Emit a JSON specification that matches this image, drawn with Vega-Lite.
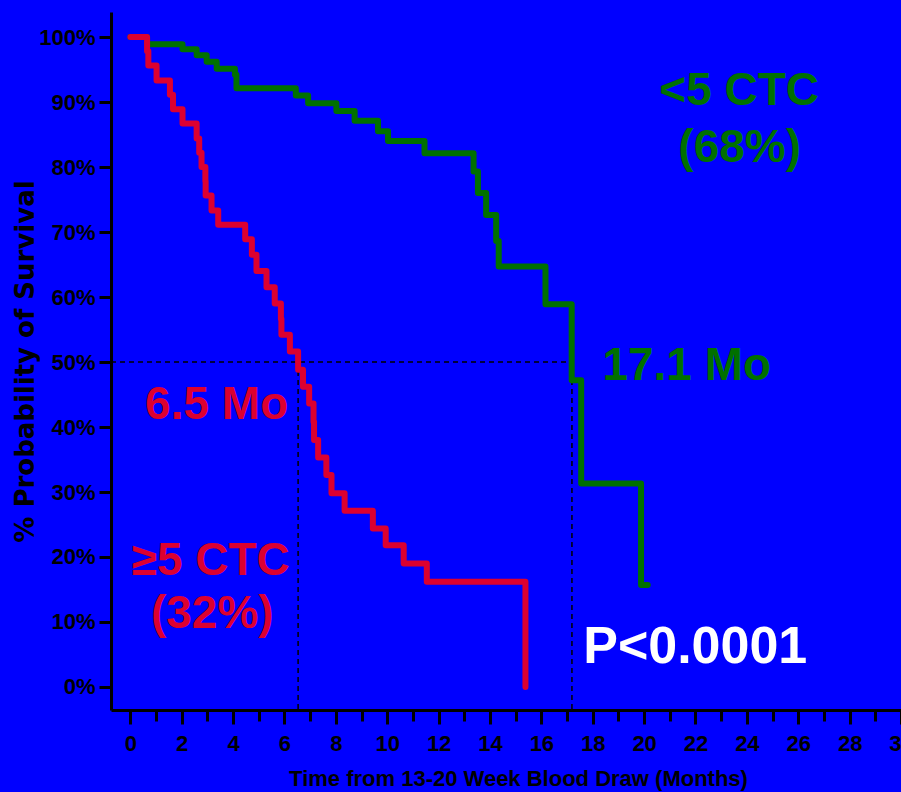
{
  "$schema": "https://vega.github.io/schema/vega-lite/v6.json",
  "width": 790,
  "height": 698,
  "autosize": {"type": "none"},
  "padding": {"left": 111, "top": 12, "right": 0, "bottom": 82},
  "background": "#0000ff",
  "config": {"view": {"stroke": null}},
  "datasets": {
    "curves": [
      {"group": "<5 CTC", "month": 0, "pct": 100},
      {"group": "<5 CTC", "month": 0.65, "pct": 98.9},
      {"group": "<5 CTC", "month": 2.03, "pct": 98.1},
      {"group": "<5 CTC", "month": 2.58, "pct": 97.2},
      {"group": "<5 CTC", "month": 2.97, "pct": 96.2},
      {"group": "<5 CTC", "month": 3.36, "pct": 95.1},
      {"group": "<5 CTC", "month": 4.07, "pct": 94.2},
      {"group": "<5 CTC", "month": 4.13, "pct": 92.1},
      {"group": "<5 CTC", "month": 6.44, "pct": 91.0},
      {"group": "<5 CTC", "month": 6.92, "pct": 89.8},
      {"group": "<5 CTC", "month": 8.02, "pct": 88.6},
      {"group": "<5 CTC", "month": 8.73, "pct": 87.1},
      {"group": "<5 CTC", "month": 9.64, "pct": 85.5},
      {"group": "<5 CTC", "month": 10.03, "pct": 84.0},
      {"group": "<5 CTC", "month": 11.45, "pct": 82.1},
      {"group": "<5 CTC", "month": 13.36, "pct": 79.3},
      {"group": "<5 CTC", "month": 13.53, "pct": 76.0},
      {"group": "<5 CTC", "month": 13.85, "pct": 72.6},
      {"group": "<5 CTC", "month": 14.24, "pct": 68.6},
      {"group": "<5 CTC", "month": 14.34, "pct": 64.7},
      {"group": "<5 CTC", "month": 16.16, "pct": 58.9},
      {"group": "<5 CTC", "month": 17.18, "pct": 47.2},
      {"group": "<5 CTC", "month": 17.55, "pct": 31.3},
      {"group": "<5 CTC", "month": 19.88, "pct": 15.7},
      {"group": "<5 CTC", "month": 20.14, "pct": 15.7},
      {"group": "≥5 CTC", "month": 0, "pct": 100},
      {"group": "≥5 CTC", "month": 0.65, "pct": 97.8},
      {"group": "≥5 CTC", "month": 0.7, "pct": 95.6},
      {"group": "≥5 CTC", "month": 1.02, "pct": 93.3},
      {"group": "≥5 CTC", "month": 1.54, "pct": 91.1},
      {"group": "≥5 CTC", "month": 1.66, "pct": 88.9},
      {"group": "≥5 CTC", "month": 2.03, "pct": 86.7},
      {"group": "≥5 CTC", "month": 2.58, "pct": 84.4},
      {"group": "≥5 CTC", "month": 2.68, "pct": 82.2},
      {"group": "≥5 CTC", "month": 2.77, "pct": 80.0},
      {"group": "≥5 CTC", "month": 2.92, "pct": 77.8},
      {"group": "≥5 CTC", "month": 2.93, "pct": 75.6},
      {"group": "≥5 CTC", "month": 3.16, "pct": 73.3},
      {"group": "≥5 CTC", "month": 3.42, "pct": 71.1},
      {"group": "≥5 CTC", "month": 4.47, "pct": 68.9},
      {"group": "≥5 CTC", "month": 4.73, "pct": 66.5},
      {"group": "≥5 CTC", "month": 4.91, "pct": 64.0},
      {"group": "≥5 CTC", "month": 5.3, "pct": 61.5},
      {"group": "≥5 CTC", "month": 5.62, "pct": 59.0},
      {"group": "≥5 CTC", "month": 5.86, "pct": 56.6},
      {"group": "≥5 CTC", "month": 5.88, "pct": 54.2},
      {"group": "≥5 CTC", "month": 6.21, "pct": 51.6},
      {"group": "≥5 CTC", "month": 6.53, "pct": 48.8},
      {"group": "≥5 CTC", "month": 6.72, "pct": 46.2},
      {"group": "≥5 CTC", "month": 6.96, "pct": 43.6},
      {"group": "≥5 CTC", "month": 7.13, "pct": 40.8},
      {"group": "≥5 CTC", "month": 7.15, "pct": 38.0},
      {"group": "≥5 CTC", "month": 7.31, "pct": 35.3},
      {"group": "≥5 CTC", "month": 7.63, "pct": 32.6},
      {"group": "≥5 CTC", "month": 7.83, "pct": 29.8},
      {"group": "≥5 CTC", "month": 8.34, "pct": 27.1},
      {"group": "≥5 CTC", "month": 9.44, "pct": 24.4},
      {"group": "≥5 CTC", "month": 9.94, "pct": 21.8},
      {"group": "≥5 CTC", "month": 10.64, "pct": 19.0},
      {"group": "≥5 CTC", "month": 11.54, "pct": 16.2},
      {"group": "≥5 CTC", "month": 15.38, "pct": 0}
    ],
    "refs": [
      {"month": -0.754, "month2": 17.19, "pct": 50, "pct2": 50},
      {"month": 6.53, "month2": 6.53, "pct": 50, "pct2": -3.54},
      {"month": 17.19, "month2": 17.19, "pct": 50, "pct2": -3.54}
    ],
    "notes": [
      {"series": "low", "label": "<5 CTC", "month": 23.7, "pct": 89.5},
      {"series": "low", "label": "(68%)", "month": 23.72, "pct": 80.8},
      {"series": "low", "label": "17.1 Mo", "month": 21.66, "pct": 47.2},
      {"series": "high", "label": "6.5 Mo", "month": 3.36, "pct": 41.3},
      {"series": "high", "label": "≥5 CTC", "month": 3.13, "pct": 17.2},
      {"series": "high", "label": "(32%)", "month": 3.19, "pct": 9.0},
      {"series": "p", "label": "P<0.0001", "month": 21.99, "pct": 3.65}
    ]
  },
  "encoding": {
    "x": {
      "field": "month",
      "type": "quantitative",
      "scale": {"domain": [-0.754, 30], "nice": false, "zero": false},
      "axis": {
        "values": [0,1,2,3,4,5,6,7,8,9,10,11,12,13,14,15,16,17,18,19,20,21,22,23,24,25,26,27,28,29,30],
        "labelExpr": "datum.value % 2 === 0 ? datum.label : ''",
        "tickSize": {"condition": {"test": "datum.value % 2 === 1", "value": 11}, "value": 14},
        "tickWidth": 3,
        "tickColor": "black",
        "domainColor": "black",
        "domainWidth": 3,
        "grid": false,
        "labelFont": "Liberation Sans",
        "labelFontWeight": "bold",
        "labelFontSize": 22,
        "labelColor": "black",
        "labelPadding": 9,
        "labelOverlap": false,
        "labelFlush": false,
        "labelBound": false,
        "title": "Time from 13-20 Week Blood Draw (Months)",
        "titleFont": "Liberation Sans",
        "titleFontSize": 22,
        "titleFontWeight": "bold",
        "titleColor": "black",
        "titleX": 407,
        "titlePadding": 14
      }
    },
    "y": {
      "field": "pct",
      "type": "quantitative",
      "scale": {"domain": [-3.54, 103.85], "nice": false, "zero": false},
      "axis": {
        "values": [0,10,20,30,40,50,60,70,80,90,100],
        "labelExpr": "datum.value + '%'",
        "tickSize": 12,
        "tickWidth": 3,
        "tickColor": "black",
        "domainColor": "black",
        "domainWidth": 3,
        "grid": false,
        "labelFont": "Liberation Sans",
        "labelFontWeight": "bold",
        "labelFontSize": 22,
        "labelColor": "black",
        "labelPadding": 4,
        "labelOverlap": false,
        "labelBound": false,
        "labelFlush": false,
        "title": "% Probability of Survival",
        "titleFont": "DejaVu Sans",
        "titleFontSize": 26,
        "titleFontWeight": "bold",
        "titleColor": "black",
        "titleAngle": -90,
        "titleAlign": "center",
        "titleBaseline": "alphabetic",
        "titleX": -78,
        "titleY": 349
      }
    }
  },
  "layer": [
    {
      "data": {"name": "refs"},
      "mark": {"type": "rule", "color": "black", "strokeWidth": 1.5, "strokeDash": [5, 4]},
      "encoding": {"x2": {"field": "month2"}, "y2": {"field": "pct2"}}
    },
    {
      "data": {"name": "curves"},
      "transform": [{"filter": "datum.group === '<5 CTC'"}],
      "mark": {"type": "line", "interpolate": "step-after", "color": "#007000", "strokeWidth": 6, "strokeCap": "round", "strokeJoin": "round"},
      "encoding": {}
    },
    {
      "data": {"name": "curves"},
      "transform": [{"filter": "datum.group === '≥5 CTC'"}],
      "mark": {"type": "line", "interpolate": "step-after", "color": "#dc0030", "strokeWidth": 6, "strokeCap": "round", "strokeJoin": "round"},
      "encoding": {}
    },
    {
      "data": {"name": "notes"},
      "transform": [{"filter": "datum.series === 'low'"}],
      "mark": {"type": "text", "color": "#007000", "font": "Liberation Sans", "fontWeight": "bold", "fontSize": 46, "align": "center", "baseline": "alphabetic"},
      "encoding": {"text": {"field": "label"}}
    },
    {
      "data": {"name": "notes"},
      "transform": [{"filter": "datum.series === 'high'"}],
      "mark": {"type": "text", "color": "#dc0030", "font": "Liberation Sans", "fontWeight": "bold", "fontSize": 46, "align": "center", "baseline": "alphabetic"},
      "encoding": {"text": {"field": "label"}}
    },
    {
      "data": {"name": "notes"},
      "transform": [{"filter": "datum.series === 'p'"}],
      "mark": {"type": "text", "color": "white", "font": "Liberation Sans", "fontWeight": "bold", "fontSize": 52, "align": "center", "baseline": "alphabetic"},
      "encoding": {"text": {"field": "label"}}
    }
  ]
}
